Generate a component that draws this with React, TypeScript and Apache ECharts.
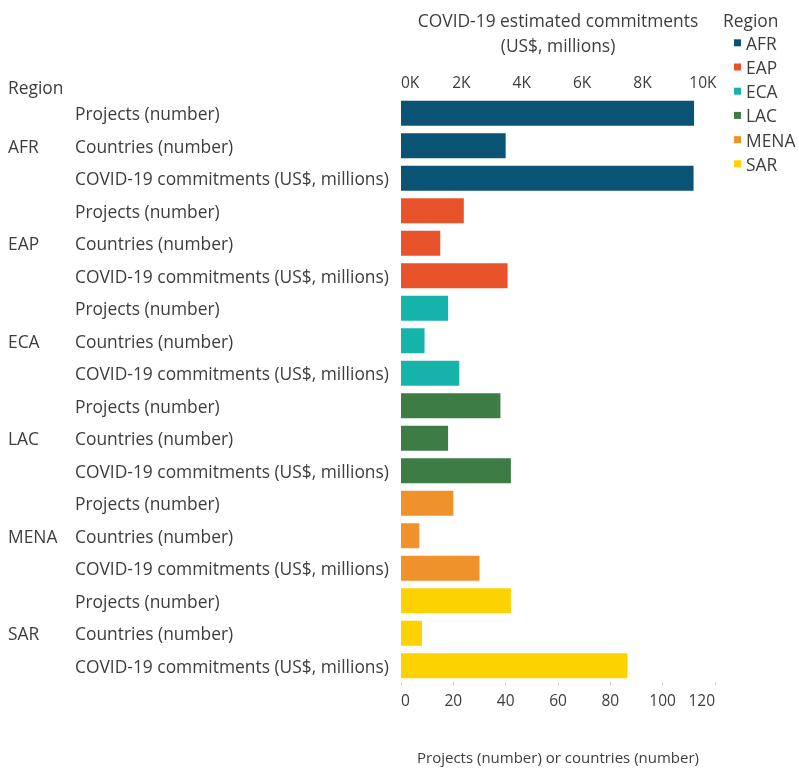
import React, { useEffect, useRef } from "react";
import * as echarts from "echarts";

const regions = ["AFR", "EAP", "ECA", "LAC", "MENA", "SAR"];
const rowLabels = ["Projects (number)", "Countries (number)", "COVID-19 commitments (US$, millions)"];
const projects = [112, 24, 18, 38, 20, 42];
const countries = [40, 15, 9, 18, 7, 8];
const commitments = [9690, 3530, 1930, 3640, 2600, 7500];
const colors = ["#0B5375", "#E8532B", "#16B3AA", "#3D7D45", "#F0922B", "#FCD200"];
const countTicks = [0, 20, 40, 60, 80, 100, 120];
const commitTicks = [0, 2000, 4000, 6000, 8000, 10000];

const FONT = "Open Sans";
const TXT = "#3d3d3d";
const FS = 17.4;

export default function App() {
  const ref = useRef<HTMLDivElement>(null);
  useEffect(() => {
    if (!ref.current) return;
    const chart = echarts.init(ref.current, undefined, { renderer: "svg" });
    const categories: string[] = [];
    regions.forEach((r) => rowLabels.forEach((l) => categories.push(r + "|" + l)));
    const n = categories.length;
    const series: any[] = [];
    regions.forEach((r, i) => {
      const cnt: (number | null)[] = new Array(n).fill(null);
      cnt[3 * i] = projects[i];
      cnt[3 * i + 1] = countries[i];
      const com: (number | null)[] = new Array(n).fill(null);
      com[3 * i + 2] = commitments[i];
      series.push({
        name: r, type: "bar", xAxisIndex: 0, yAxisIndex: 0, stack: "all",
        data: cnt, barCategoryGap: "23%", itemStyle: { color: colors[i] },
      });
      series.push({
        name: r, type: "bar", xAxisIndex: 1, yAxisIndex: 0, stack: "all",
        data: com, barCategoryGap: "23%", itemStyle: { color: colors[i] },
      });
    });
    chart.setOption({
      animation: false,
      textStyle: { fontFamily: FONT },
      grid: { left: 401, right: 84, top: 97, bottom: 88, containLabel: false, outerBoundsMode: "none" },
      legend: {
        data: regions, orient: "vertical", left: 734, top: 34.3, padding: 0,
        itemWidth: 7, itemHeight: 7, itemGap: 7.2, icon: "rect",
        textStyle: { fontFamily: FONT, fontSize: FS, color: TXT },
      },
      graphic: [
        { type: "text", left: 723, top: 11, style: { text: "Region", fontFamily: FONT, fontSize: FS, fill: TXT } },
        { type: "text", left: 8, top: 78, style: { text: "Region", fontFamily: FONT, fontSize: FS, fill: TXT } },
      ],
      xAxis: [
        {
          type: "value", position: "bottom", min: countTicks[0], max: countTicks[countTicks.length - 1],
          interval: countTicks[1] - countTicks[0],
          splitLine: { show: false }, axisLine: { show: false },
          axisTick: { show: true, length: 3, lineStyle: { color: "#cfcfcf" } },
          axisLabel: { fontFamily: FONT, fontSize: 15.5, color: TXT, margin: 10, alignMinLabel: "left", alignMaxLabel: "right" },
          name: "Projects (number) or countries (number)", nameLocation: "middle", nameGap: 67,
          nameTextStyle: { fontFamily: FONT, fontSize: 15, color: TXT },
        },
        {
          type: "value", position: "top", min: 0, max: 10400, interval: commitTicks[1] - commitTicks[0],
          splitLine: { show: false }, axisLine: { show: false }, axisTick: { show: false },
          axisLabel: {
            fontFamily: FONT, fontSize: 15.5, color: TXT, margin: 7, alignMinLabel: "left",
            formatter: (v: number) => (commitTicks.indexOf(v) >= 0 ? v / 1000 + "K" : ""),
          },
          name: "COVID-19 estimated commitments\n(US$, millions)", nameLocation: "middle", nameGap: 39.5,
          nameTextStyle: { fontFamily: FONT, fontSize: FS, color: TXT, lineHeight: 25 },
        },
      ],
      yAxis: [
        {
          type: "category", data: categories, inverse: true, position: "left",
          axisLine: { show: false }, axisTick: { show: false },
          axisLabel: {
            fontFamily: FONT, fontSize: FS, color: TXT, align: "left", margin: 326, interval: 0,
            formatter: (v: string) => v.split("|")[1],
          },
        },
        {
          type: "category", data: categories, inverse: true, position: "left",
          axisLine: { show: false }, axisTick: { show: false },
          axisLabel: {
            fontFamily: FONT, fontSize: FS, color: TXT, align: "left", margin: 393, interval: 0,
            formatter: (v: string, idx: number) => (idx % 3 === 1 ? v.split("|")[0] : ""),
          },
        },
      ],
      series,
    });
    return () => chart.dispose();
  }, []);
  return <div ref={ref} style={{ position: "fixed", left: 0, top: 0, width: 799, height: 770 }} />;
}
